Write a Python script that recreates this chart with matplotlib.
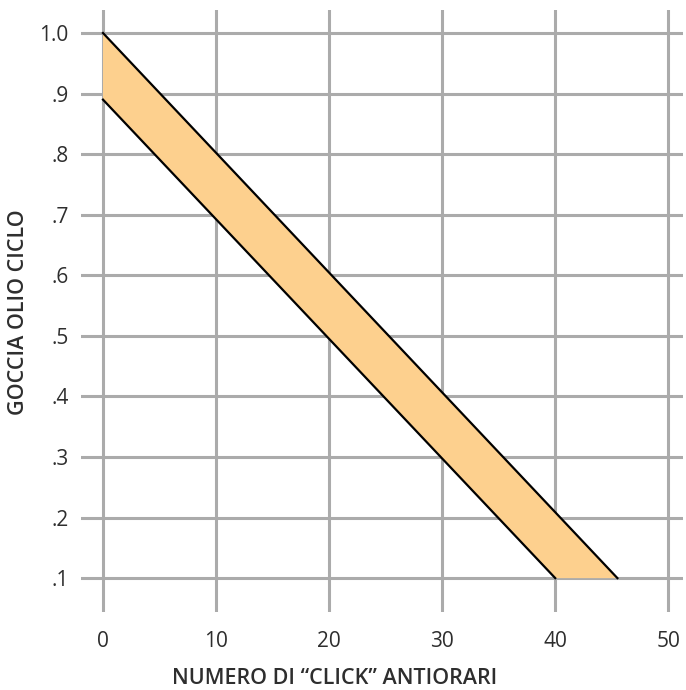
import matplotlib
matplotlib.use("Agg")
import matplotlib.pyplot as plt
import numpy as np

# Banda di regolazione (limite superiore e inferiore)
UPPER_X = [0, 45.5]
UPPER_Y = [1.0, 0.1]
LOWER_X = [0, 40]
LOWER_Y = [0.89, 0.1]

X_TICKS  = [0, 10, 20, 30, 40, 50]
Y_TICKS  = [0.1, 0.2, 0.3, 0.4, 0.5, 0.6, 0.7, 0.8, 0.9, 1.0]
Y_LABELS = [".1", ".2", ".3", ".4", ".5", ".6", ".7", ".8", ".9", "1.0"]

TEXT_COLOR = "#2e2e2e"
GRID_COLOR = "#ababab"
FILL_COLOR = "#fdd08e"

plt.rcParams["font.family"] = ["Open Sans", "DejaVu Sans"]

fig = plt.figure(figsize=(6.86, 6.90), dpi=100)
ax = fig.add_axes([0.118, 0.113, 0.8776, 0.8725])

# poligono della banda
poly_x = UPPER_X + LOWER_X[::-1]
poly_y = UPPER_Y + LOWER_Y[::-1]
ax.fill(poly_x, poly_y, color=FILL_COLOR, lw=0, zorder=2)
ax.plot(UPPER_X, UPPER_Y, color="black", lw=1.6, zorder=3)
ax.plot(LOWER_X, LOWER_Y, color="black", lw=1.6, zorder=3)

ax.set_xlim(-1.95, 51.3)
ax.set_ylim(0.044, 1.038)
ax.set_xticks(X_TICKS)
ax.set_yticks(Y_TICKS)
ax.set_yticklabels(Y_LABELS)
ax.grid(True, color=GRID_COLOR, lw=2.2, zorder=1)
ax.set_axisbelow(True)
for s in ax.spines.values():
    s.set_visible(False)
ax.tick_params(length=0, labelsize=15, labelcolor=TEXT_COLOR, pad=14)
ax.tick_params(axis="y", pad=9)

ax.set_xlabel("NUMERO DI \u201cCLICK\u201d ANTIORARI", fontsize=15.5, fontweight="semibold",
              color=TEXT_COLOR, va="center")
ax.xaxis.set_label_coords(0.422, -0.111)
ax.set_ylabel("GOCCIA OLIO CICLO", fontsize=15.5, fontweight="semibold",
              color=TEXT_COLOR, va="center")
ax.yaxis.set_label_coords(-0.104, 0.498)

fig.savefig("out.png", dpi=100)
